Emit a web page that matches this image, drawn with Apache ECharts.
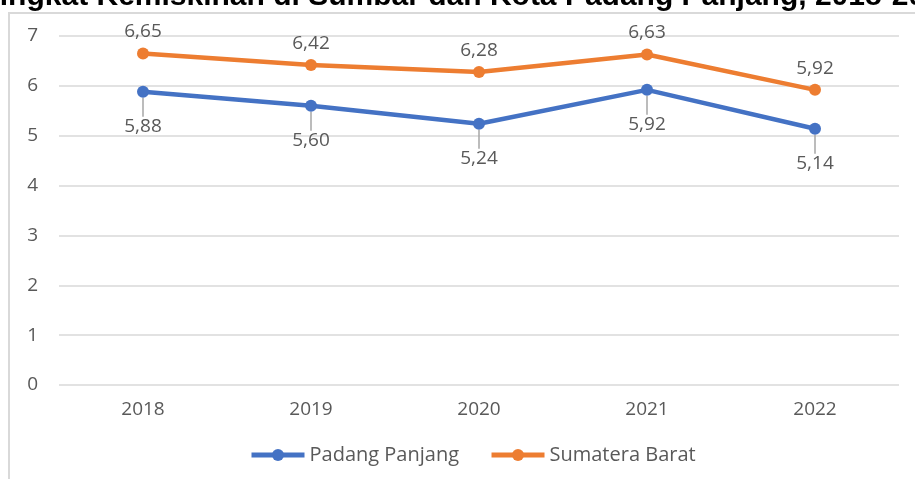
<!DOCTYPE html>
<html>
<head>
<meta charset="utf-8">
<script src="https://cdn.jsdelivr.net/npm/echarts@6/dist/echarts.min.js"></script>
<style>
  html, body { margin: 0; padding: 0; background: #fff; }
  #chart { width: 915px; height: 479px; }
</style>
</head>
<body>
<div id="chart"></div>
<script>
var years = ['2018', '2019', '2020', '2021', '2022'];
var padangPanjang = [5.88, 5.60, 5.24, 5.92, 5.14];
var sumateraBarat = [6.65, 6.42, 6.28, 6.63, 5.92];
var titleText = 'Tingkat Kemiskinan di Sumbar dan Kota Padang Panjang, 2018-2022';

var myChart = echarts.init(document.getElementById('chart'));
var font = 'Open Sans';
var fmt = function (p) { return p.value.toFixed(2).replace('.', ','); };

var option = {
  animation: false,
  textStyle: { fontFamily: font },
  graphic: [
    // border of the chart area
    {
      type: 'polyline',
      shape: { points: [[9, 479], [9, 13], [915, 13]] },
      style: { stroke: '#d9d9d9', lineWidth: 2, fill: null }
    },
    {
      type: 'text',
      x: -18,
      y: -3,
      style: {
        text: titleText,
        font: 'bold 30px "Liberation Sans", Arial, sans-serif',
        fill: '#000',
        verticalAlign: 'middle'
      }
    }
  ],
  grid: { left: 59, right: 16, top: 36, bottom: 94 },
  legend: {
    bottom: 9,
    left: 244,
    itemWidth: 53,
    itemHeight: 15,
    itemGap: 30,
    lineStyle: { width: 5 },
    textStyle: { fontSize: 20, color: '#595959', fontFamily: font },
    data: ['Padang Panjang', 'Sumatera Barat']
  },
  xAxis: {
    type: 'category',
    data: years,
    axisLine: { show: false },
    axisTick: { show: false },
    axisLabel: { fontSize: 19, color: '#595959', margin: 15 }
  },
  yAxis: {
    type: 'value',
    min: 0,
    max: 7,
    interval: 1,
    axisLabel: { fontSize: 19, color: '#595959', margin: 21 },
    splitLine: { lineStyle: { color: '#d9d9d9', width: 1.5 } }
  },
  series: [
    {
      name: 'Padang Panjang',
      type: 'line',
      data: padangPanjang,
      color: '#4472c4',
      symbol: 'circle',
      symbolSize: 12,
      lineStyle: { width: 4.5 },
      label: {
        show: true,
        position: 'bottom',
        distance: 5,
        fontSize: 19,
        color: '#595959',
        formatter: fmt
      },
      labelLayout: { dy: 14 },
      labelLine: { show: true, lineStyle: { color: '#a6a6a6', width: 1.5 } }
    },
    {
      name: 'Sumatera Barat',
      type: 'line',
      data: sumateraBarat,
      color: '#ed7d31',
      symbol: 'circle',
      symbolSize: 12,
      lineStyle: { width: 4.5 },
      label: {
        show: true,
        position: 'top',
        distance: 6,
        fontSize: 19,
        color: '#595959',
        formatter: fmt
      }
    }
  ]
};
option && myChart.setOption(option);
</script>
</body>
</html>
